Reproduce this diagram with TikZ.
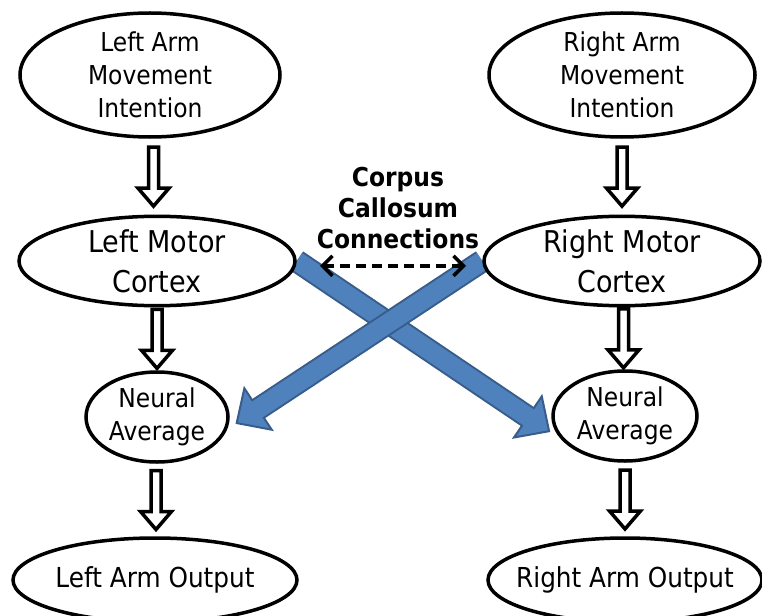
\documentclass[tikz,border=0pt]{standalone}
\usepackage{fontspec}
\setmainfont{DejaVu Sans}[FakeStretch=0.9]
\usetikzlibrary{shapes.geometric,arrows.meta,calc,backgrounds}

\definecolor{cross fill}{HTML}{4F81BD}
\definecolor{cross edge}{HTML}{385D8A}
\tikzset{
  oval/.style={ellipse, draw=black, line width=3.5pt, fill=white, inner sep=0pt, align=center},
  hollow/.style={draw=black, line width=3.5pt, fill=white, line join=miter},
  crossout/.style={draw=cross edge, line width=23pt,
    -{Triangle[length=28pt,width=54pt,line width=2pt,fill=cross fill]}},
  crossin/.style={draw=cross fill, line width=19pt}
  }
\tikzstyle{smalltext}=[font=\fontsize{26}{33}\selectfont]
\tikzstyle{outtext}=[font=\fontsize{27.5}{33}\selectfont, inner xsep=-25pt]
\tikzstyle{bigtext}=[font=\fontsize{30}{40}\selectfont]
\tikzstyle{boldtext}=[font=\fontsize{26}{31}\selectfont\bfseries, align=center]

% block arrow half way between two ovals
\newcommand{\hollowarrow}[2]{%
  \coordinate (mid) at ($(#1.south)!0.5!(#2.north)$);
  \draw[hollow] (mid) ++(-5,-29.5) -- ++(10,0) -- ++(0,41) -- ++(10.5,0)
    -- ++(-15.5,18) -- ++(-15.5,-18) -- ++(10.5,0) -- cycle;
}

\begin{document}
\begin{tikzpicture}[x=1pt, y=-1pt]
   \useasboundingbox (0,0) rectangle (762,615);

   \node[oval, smalltext, minimum width=260pt, minimum height=124pt] (lint) at (150,75) {Left Arm\\Movement\\Intention};
   \node[oval, smalltext, minimum width=266pt, minimum height=124pt] (rint) at (622,75) {Right Arm\\Movement\\Intention};

   \node[oval, bigtext, minimum width=276pt, minimum height=88pt] (lmc) at (157,261) {Left Motor\\Cortex};
   \node[oval, bigtext, minimum width=276pt, minimum height=88pt] (rmc) at (622,261) {Right Motor\\Cortex};

   \node[oval, smalltext, minimum width=142pt, minimum height=90pt] (lna) at (157,417) {Neural\\Average};
   \node[oval, smalltext, minimum width=144pt, minimum height=90pt] (rna) at (625,416) {Neural\\Average};

   \node[oval, outtext, minimum width=284pt, minimum height=84pt] (lout) at (155,580) {Left Arm Output};
   \node[oval, outtext, minimum width=274pt, minimum height=84pt] (rout) at (625,580) {Right Arm Output};

   \node[boldtext] (cc) at (398,208) {Corpus\\Callosum\\Connections};

   \hollowarrow{lint}{lmc}
   \hollowarrow{lmc}{lna}
   \hollowarrow{lna}{lout}
   \hollowarrow{rint}{rmc}
   \hollowarrow{rmc}{rna}
   \hollowarrow{rna}{rout}

   \draw[line width=3.5pt, dash pattern=on 10pt off 6pt,
     {Straight Barb[length=10pt,width=20pt]}-{Straight Barb[length=10pt,width=20pt]},
     shorten <=24pt, shorten >=17pt] (lmc.-2) -- (rmc.182);

   % the crossing arrows go under the ovals
   \begin{scope}[on background layer]
      \draw[crossout, shorten >=13pt] (lmc.east) -- (rna.200);
      \draw[crossin, shorten >=37pt] (lmc.east) -- (rna.200);
      \draw[crossout, shorten >=10pt] (rmc.west) -- (lna.-10);
      \draw[crossin, shorten >=34pt] (rmc.west) -- (lna.-10);
   \end{scope}
\end{tikzpicture}
\end{document}
